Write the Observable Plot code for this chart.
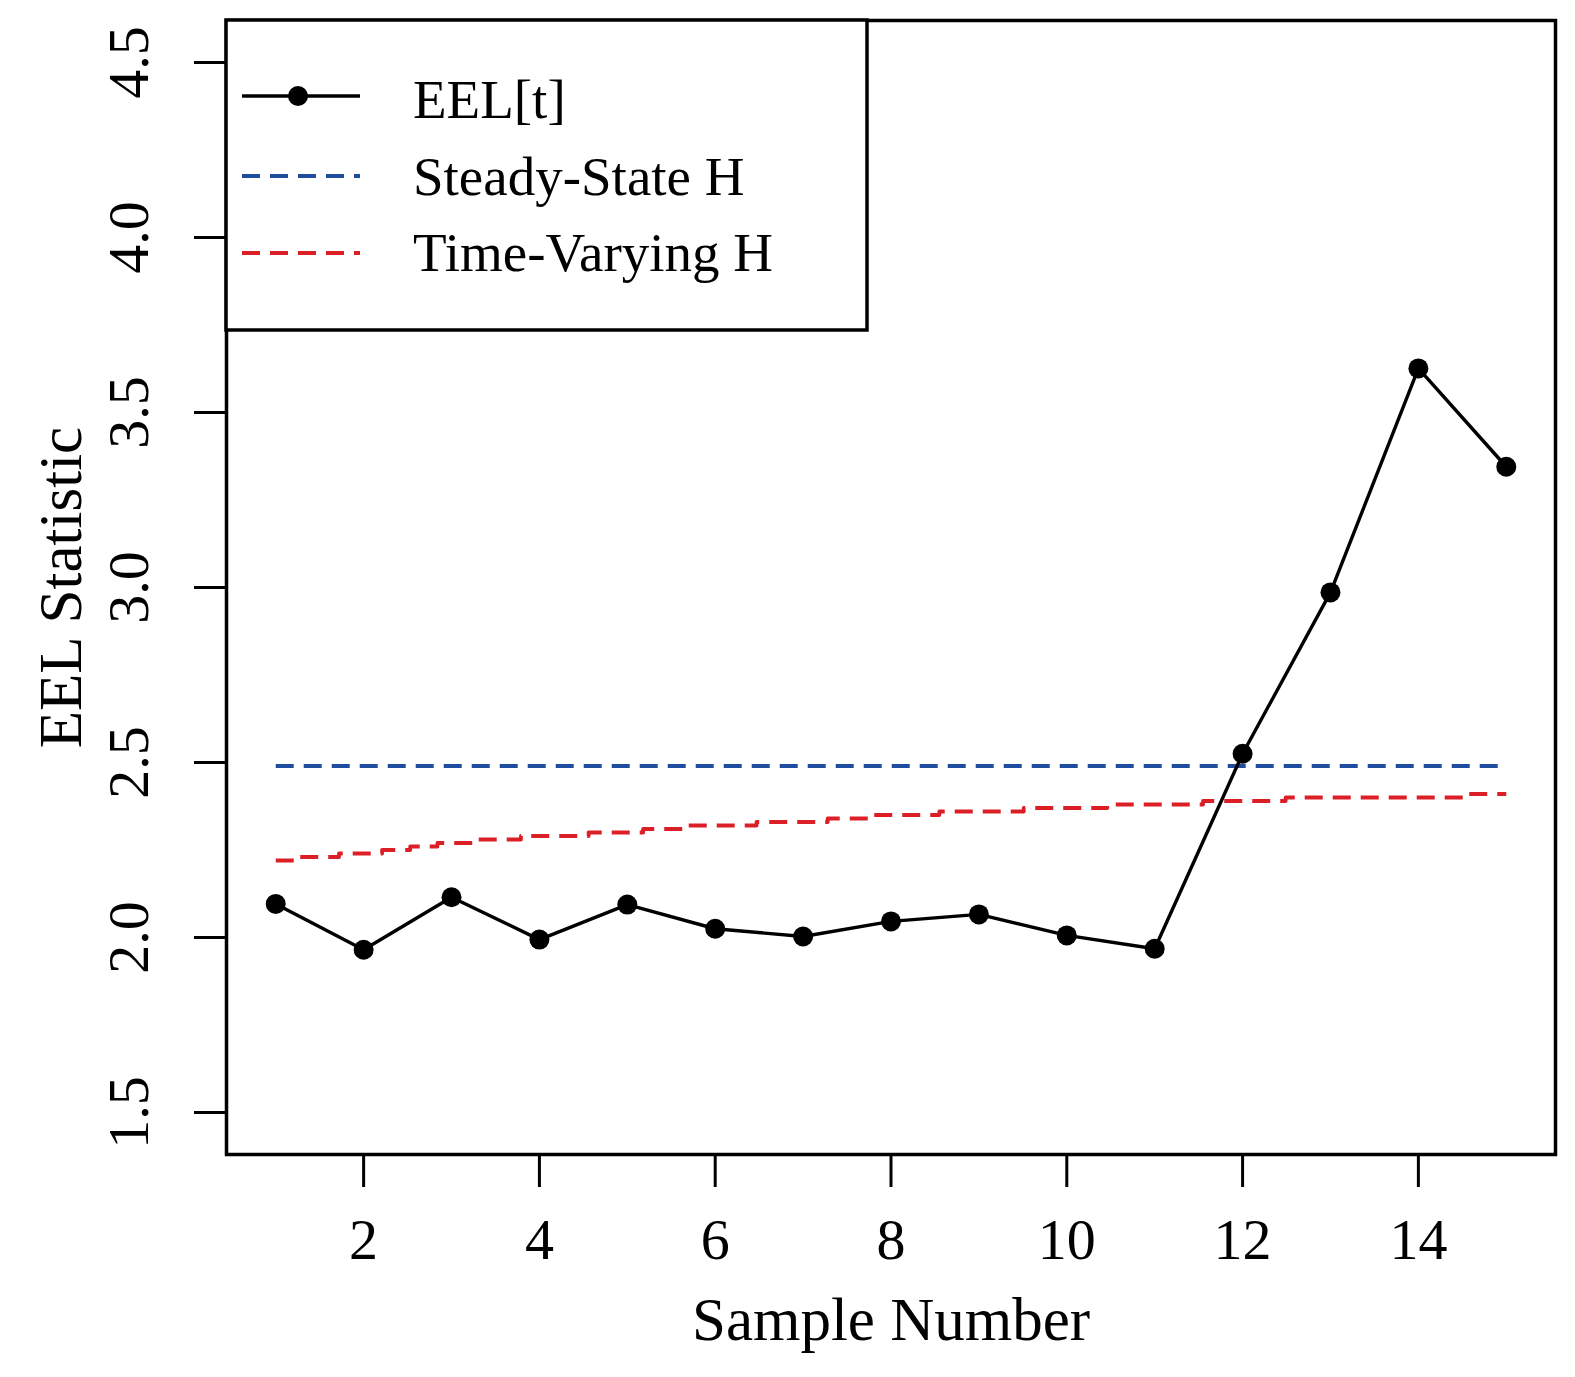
<!DOCTYPE html>
<html>
<head>
<meta charset="utf-8">
<script src="https://cdn.jsdelivr.net/npm/d3@7"></script>
<script src="https://cdn.jsdelivr.net/npm/@observablehq/plot@0.6"></script>
<style>
  html, body { margin: 0; padding: 0; background: #fff; }
  #chart svg { display: block; }
</style>
</head>
<body>
<div id="chart"></div>
<script>
// ---- data ----
const sample = [1, 2, 3, 4, 5, 6, 7, 8, 9, 10, 11, 12, 13, 14, 15];
const eel = [2.096, 1.965, 2.115, 1.994, 2.094, 2.025, 2.003, 2.046, 2.066, 2.006, 1.968, 2.525, 2.986, 3.626, 3.345];
const steadyH = 2.49;
// time-varying threshold: step change points (x) and levels (rounded to 0.01)
const tvX = [1, 1.26, 1.72, 2.21, 2.53, 2.84, 3.28, 3.79, 4.56, 5.18, 5.69, 6.47, 7.28, 7.74, 8.55, 9.51, 10.46, 11.55, 12.49, 14.57, 15];
const tvH = [2.22, 2.23, 2.24, 2.25, 2.26, 2.27, 2.28, 2.29, 2.30, 2.31, 2.32, 2.33, 2.34, 2.35, 2.36, 2.37, 2.38, 2.39, 2.40, 2.41, 2.41];
const xTicks = [2, 4, 6, 8, 10, 12, 14];
const yTicks = [1.5, 2.0, 2.5, 3.0, 3.5, 4.0, 4.5];
const legendLabels = ["EEL[t]", "Steady-State H", "Time-Varying H"];
const xTitle = "Sample Number";
const yTitle = "EEL Statistic";

const eelData = sample.map((s, i) => ({x: s, y: eel[i]}));
const tvData = tvX.map((x, i) => ({x, y: tvH[i]}));
const ssData = [{x: sample[0], y: steadyH}, {x: sample[sample.length - 1], y: steadyH}];

const FONT = "'Liberation Serif', 'Times New Roman', Times, serif";
const BLUE = "#1f4e9e";
const RED = "#dc1f26";

const chart = Plot.plot({
  width: 1575,
  height: 1377,
  marginLeft: 226,
  marginRight: 20,
  marginTop: 20,
  marginBottom: 223,
  style: {fontFamily: FONT, background: "#fff", color: "#000"},
  x: {domain: [0.44, 15.56]},
  y: {domain: [1.38, 4.62]},
  marks: [
    Plot.line(ssData, {x: "x", y: "y", stroke: BLUE, strokeWidth: 3.8, strokeDasharray: "18,10", strokeLinecap: "butt"}),
    Plot.line(tvData, {x: "x", y: "y", curve: "step-after", stroke: RED, strokeWidth: 3.8, strokeDasharray: "18,10", strokeLinecap: "butt"}),
    Plot.line(eelData, {x: "x", y: "y", stroke: "#000", strokeWidth: 3.4}),
    Plot.dot(eelData, {x: "x", y: "y", r: 10, fill: "#000", stroke: "none"}),
    Plot.frame({stroke: "#000", strokeWidth: 3.5}),
    Plot.axisX({ticks: xTicks, tickSize: 33, tickPadding: 30, fontSize: 58, strokeWidth: 3, label: null, fontFamily: FONT}),
    Plot.axisY({ticks: yTicks, tickSize: 32, tickFormat: () => "", strokeWidth: 3, label: null}),
    Plot.text(yTicks, {y: d => d, text: d => d.toFixed(1), frameAnchor: "left", dx: -97, rotate: -90, textAnchor: "middle", lineAnchor: "middle", fontSize: 58, fill: "#000"}),
    Plot.text([xTitle], {text: d => d, frameAnchor: "bottom", dy: 166, textAnchor: "middle", lineAnchor: "middle", fontSize: 61, fill: "#000"}),
    Plot.text([yTitle], {text: d => d, frameAnchor: "left", dx: -165, rotate: -90, textAnchor: "middle", lineAnchor: "middle", fontSize: 61, fill: "#000"})
  ]
});

document.getElementById("chart").appendChild(chart);

// ---- legend inside the plot (top-left) ----
const svg = d3.select(chart);
const g = svg.append("g").attr("font-family", FONT).attr("text-anchor", "start");
g.append("rect").attr("x", 226).attr("y", 20).attr("width", 641).attr("height", 310)
  .attr("fill", "#fff").attr("stroke", "#000").attr("stroke-width", 3.5);
const rows = [
  {label: legendLabels[0], color: "#000", dash: null, dot: true, ly: 96, ty: 118},
  {label: legendLabels[1], color: BLUE, dash: "18,10", dot: false, ly: 176, ty: 195},
  {label: legendLabels[2], color: RED, dash: "18,10", dot: false, ly: 253, ty: 271}
];
rows.forEach(r => {
  const ln = g.append("line").attr("x1", 242).attr("x2", 360).attr("y1", r.ly).attr("y2", r.ly)
    .attr("stroke", r.color).attr("stroke-width", r.dot ? 3.4 : 3.8);
  if (r.dash) ln.attr("stroke-dasharray", r.dash);
  if (r.dot) g.append("circle").attr("cx", 298).attr("cy", r.ly).attr("r", 10).attr("fill", "#000");
  g.append("text").attr("x", 413).attr("y", r.ty).attr("font-size", 55).attr("fill", "#000")
    .attr("text-anchor", "start").text(r.label);
});
</script>
</body>
</html>
